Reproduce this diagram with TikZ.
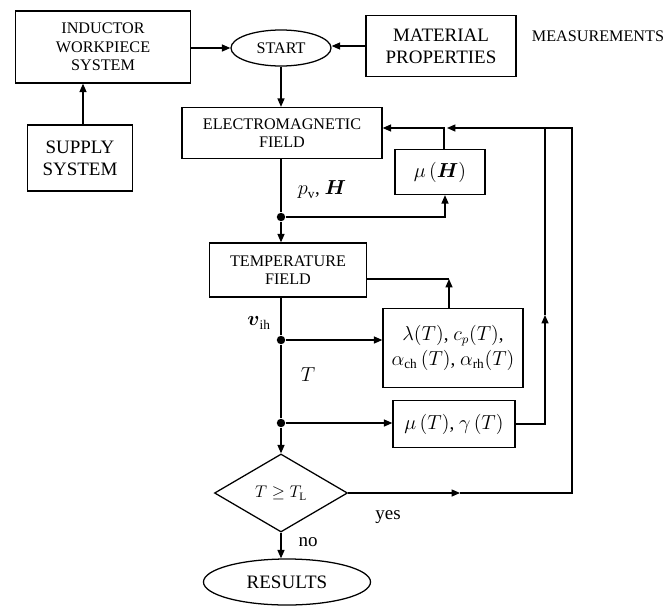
\documentclass[tikz,border=0pt]{standalone}
\usepackage{amsmath,amssymb}
\usepackage{fontspec}
\setmainfont{Liberation Serif}
\usepackage{tikz}
\usetikzlibrary{arrows.meta,positioning,calc,shapes.geometric}

\begin{document}
\begin{tikzpicture}[x=0.025cm, y=-0.025cm, line width=0.9pt,
  font=\fontsize{11.5}{13}\selectfont,
  >={Triangle[length=6pt,width=5pt]},
  blk/.style={draw, align=center, inner sep=1pt},
  big/.style={font=\fontsize{13.5}{15.5}\selectfont},
  term/.style={draw, ellipse, inner sep=0pt},
  dot/.style={circle, fill, inner sep=0pt, minimum size=6pt}]
\useasboundingbox (0,0) rectangle (664,606);
% --- upper row ---
\node[blk, minimum width=4.375cm, minimum height=1.8cm] (isys) at (103,47) {INDUCTOR\\WORKPIECE\\SYSTEM};
\node[term, minimum width=2.5cm, minimum height=0.9cm] (start) at (281,48) {START};
\node[blk, big, minimum width=3.75cm, minimum height=1.525cm] (matp) at (441,46) {MATERIAL\\PROPERTIES};
\node (meas) at (598,36) {MEASUREMENTS};
\node[blk, big, minimum width=2.625cm, minimum height=1.65cm] (supply) at (80,158) {SUPPLY\\SYSTEM};
% --- field blocks ---
\node[blk, minimum width=5cm, minimum height=1.275cm] (emf) at (282,133) {ELECTROMAGNETIC\\FIELD};
\node[blk, big, minimum width=2.25cm, minimum height=1.125cm] (muH) at (440,172) {$\mu\,(\boldsymbol{H})$};
\node[blk, minimum width=3.925cm, minimum height=1.35cm] (tf) at (288,270) {TEMPERATURE\\FIELD};
\node[blk, big, minimum width=3.5cm, minimum height=1.975cm] (lam) at (453,348) {$\lambda(T)$, $c_p(T)$,\\[2pt] $\alpha_{\mathrm{ch}}\,(T)$, $\alpha_{\mathrm{rh}}(T)$};
\node[blk, big, minimum width=3.05cm, minimum height=1.175cm] (muT) at (454,424) {$\mu\,(T)$, $\gamma\,(T)$};
\node[draw, diamond, aspect=1.7, inner sep=0pt, minimum width=3.325cm, minimum height=1.95cm] (dec) at (281,493) {$T \geq T_{\mathrm{L}}$};
\node[term, big, minimum width=4.175cm, minimum height=1.15cm] (res) at (287,582) {RESULTS};
% --- junctions and corners ---
\node[dot] (j1) at (281,217) {};
\node[dot] (j2) at (281,340) {};
\node[dot] (j3) at (281,423) {};
\coordinate (top) at (444,128);
\coordinate (mtop) at (447,128);
\coordinate (rin) at (545,128);
\coordinate (rout) at (572,128);
\coordinate (lamtop) at (449,279);
% --- labels ---
\node[big] at (322,190) {$p_{\mathrm{v}}$, $\boldsymbol{H}$};
\node[big] at (259,323) {$\boldsymbol{v}_{\mathrm{ih}}$};
\node[big] at (308,375) {$T$};
\node[big] at (388,517) {yes};
\node[big] at (308,542) {no};
% --- connectors ---
\draw[->] (isys.east|-start.west) -- (start.west);
\draw[->] (matp.west) -- (matp.west-|start.east);
\draw[->] (supply.north-|83,0) -- (isys.south-|83,0);
\draw[->] (start.south) -- (start.south|-emf.north);
\draw (emf.south-|j1) -- (j1);
\draw[->] (j1) -- (j1|-tf.north);
\draw[->] (j1) -| (j1-|445,0) -- (445,0|-muH.south);
\draw[->] (top|-muH.north) -- (top) -- (top-|emf.east);
\draw (tf.south-|j2) -- (j2) -- (j3);
\draw[->] (j2) -- (j2-|lam.west);
\draw[->] (lam.north-|lamtop) -- (lamtop);
\draw (lamtop) -- (lamtop-|tf.east);
\draw[->] (j3) -- (j3-|muT.west);
\draw[->] (j3) -- (dec.north);
\draw[->] (dec.south) -- (dec.south|-res.north);
\draw[->] (muT.east) -| (545,315);
\draw (545,315) -- (rin);
\draw[->] (dec.east) -- (460,0|-dec.east);
\draw[->] (460,0|-dec.east) -| (rout) -- (mtop);
\end{tikzpicture}
\end{document}
